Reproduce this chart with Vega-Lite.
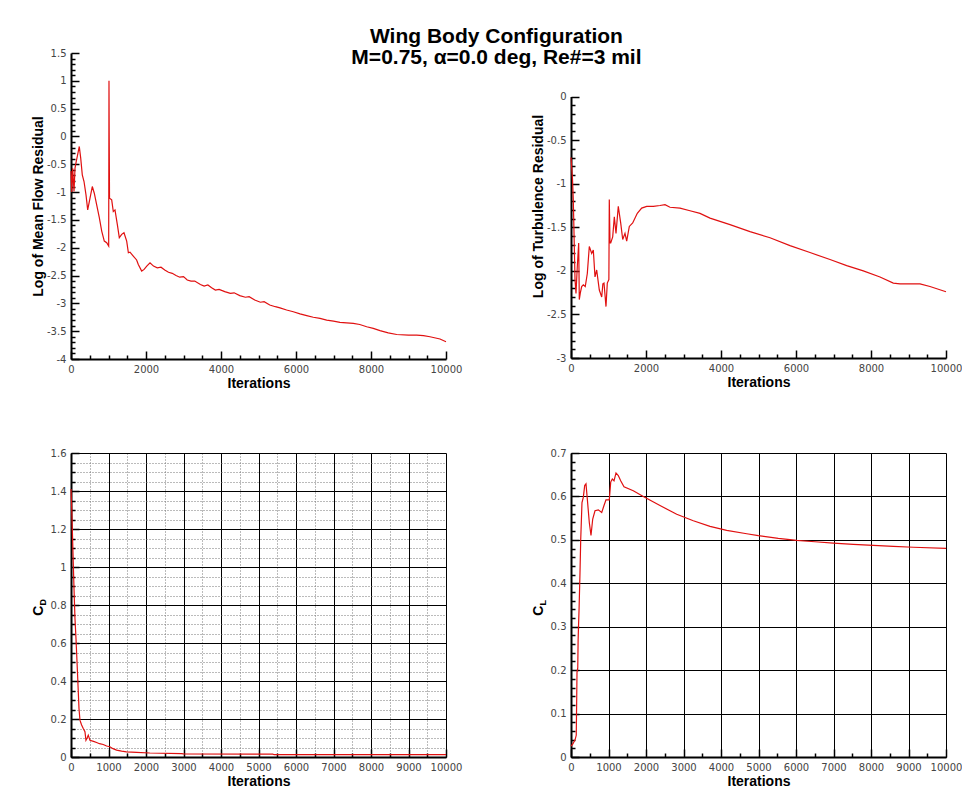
{
  "$schema": "https://vega.github.io/schema/vega-lite/v6.json",
  "background": "white",
  "padding": {"left": 31, "top": 26, "right": 0, "bottom": 0},
  "title": {
    "text": ["Wing Body Configuration", "M=0.75, α=0.0 deg, Re#=3 mil"],
    "font": "Liberation Sans", "fontSize": 21, "fontWeight": "bold", "color": "#000",
    "anchor": "middle", "frame": "bounds", "offset": -20, "lineHeight": 21
  },
  "config": {
    "view": {"stroke": null},
    "axis": {
      "domainColor": "#000", "domainWidth": 2, "tickColor": "#000", "tickWidth": 1.5,
      "labelFont": "DejaVu Sans", "labelFontSize": 10, "labelColor": "#444",
      "titleFont": "Liberation Sans", "titleFontSize": 14, "titleFontWeight": "bold", "titleColor": "#000",
      "grid": false, "labelFlush": false, "labelOverlap": false
    }
  },
  "datasets": {
    "tl": [
      {"it":0,"v":-0.62},{"it":20,"v":-1.0},{"it":45,"v":-0.57},{"it":80,"v":-0.99},{"it":107,"v":-0.57},{"it":140,"v":-0.45},{"it":168,"v":-0.36},{"it":221,"v":-0.18},{"it":259,"v":-0.39},{"it":301,"v":-0.69},{"it":347,"v":-0.81},{"it":400,"v":-1.05},{"it":445,"v":-1.32},{"it":507,"v":-1.11},{"it":568,"v":-0.9},{"it":621,"v":-1.02},{"it":685,"v":-1.23},{"it":755,"v":-1.46},{"it":819,"v":-1.7},{"it":888,"v":-1.88},{"it":952,"v":-1.91},{"it":1005,"v":-1.97},{"it":1013,"v":1.0},{"it":1019,"v":-0.04},{"it":1027,"v":-1.11},{"it":1085,"v":-1.14},{"it":1128,"v":-1.35},{"it":1173,"v":-1.32},{"it":1235,"v":-1.58},{"it":1288,"v":-1.82},{"it":1352,"v":-1.76},{"it":1413,"v":-1.73},{"it":1485,"v":-1.88},{"it":1530,"v":-2.09},{"it":1573,"v":-2.08},{"it":1661,"v":-2.15},{"it":1750,"v":-2.22},{"it":1795,"v":-2.3},{"it":1885,"v":-2.42},{"it":1950,"v":-2.39},{"it":2020,"v":-2.33},{"it":2107,"v":-2.27},{"it":2200,"v":-2.33},{"it":2300,"v":-2.36},{"it":2400,"v":-2.35},{"it":2500,"v":-2.4},{"it":2600,"v":-2.44},{"it":2700,"v":-2.46},{"it":2800,"v":-2.5},{"it":2900,"v":-2.53},{"it":3000,"v":-2.52},{"it":3100,"v":-2.58},{"it":3200,"v":-2.6},{"it":3300,"v":-2.6},{"it":3450,"v":-2.66},{"it":3550,"v":-2.69},{"it":3650,"v":-2.67},{"it":3750,"v":-2.72},{"it":3850,"v":-2.76},{"it":3950,"v":-2.75},{"it":4100,"v":-2.79},{"it":4250,"v":-2.82},{"it":4350,"v":-2.81},{"it":4500,"v":-2.86},{"it":4650,"v":-2.89},{"it":4750,"v":-2.88},{"it":4900,"v":-2.94},{"it":5050,"v":-2.98},{"it":5150,"v":-2.97},{"it":5300,"v":-3.03},{"it":5450,"v":-3.06},{"it":5573,"v":-3.08},{"it":5750,"v":-3.12},{"it":5928,"v":-3.15},{"it":6107,"v":-3.19},{"it":6285,"v":-3.22},{"it":6461,"v":-3.25},{"it":6640,"v":-3.27},{"it":6819,"v":-3.3},{"it":7000,"v":-3.32},{"it":7173,"v":-3.34},{"it":7350,"v":-3.35},{"it":7528,"v":-3.36},{"it":7700,"v":-3.38},{"it":7885,"v":-3.42},{"it":8060,"v":-3.45},{"it":8240,"v":-3.49},{"it":8460,"v":-3.53},{"it":8685,"v":-3.56},{"it":9000,"v":-3.57},{"it":9219,"v":-3.57},{"it":9400,"v":-3.58},{"it":9573,"v":-3.6},{"it":9840,"v":-3.64},{"it":10000,"v":-3.69}
    ],
    "tr": [
      {"it":0,"v":-0.7},{"it":40,"v":-0.95},{"it":61,"v":-1.18},{"it":107,"v":-2.1},{"it":133,"v":-2.26},{"it":168,"v":-1.95},{"it":205,"v":-1.68},{"it":221,"v":-2.33},{"it":250,"v":-2.25},{"it":285,"v":-2.18},{"it":328,"v":-2.16},{"it":380,"v":-2.18},{"it":435,"v":-2.03},{"it":488,"v":-1.72},{"it":552,"v":-1.8},{"it":595,"v":-1.76},{"it":640,"v":-2.07},{"it":685,"v":-1.99},{"it":755,"v":-2.22},{"it":819,"v":-2.3},{"it":850,"v":-2.15},{"it":880,"v":-2.14},{"it":933,"v":-2.41},{"it":968,"v":-2.14},{"it":1010,"v":-2.1},{"it":1021,"v":-1.18},{"it":1040,"v":-1.68},{"it":1059,"v":-1.68},{"it":1112,"v":-1.61},{"it":1155,"v":-1.38},{"it":1200,"v":-1.57},{"it":1261,"v":-1.26},{"it":1325,"v":-1.45},{"it":1379,"v":-1.64},{"it":1440,"v":-1.57},{"it":1485,"v":-1.66},{"it":1555,"v":-1.49},{"it":1645,"v":-1.45},{"it":1768,"v":-1.34},{"it":1885,"v":-1.28},{"it":2019,"v":-1.26},{"it":2195,"v":-1.26},{"it":2373,"v":-1.25},{"it":2507,"v":-1.24},{"it":2640,"v":-1.27},{"it":2907,"v":-1.28},{"it":3173,"v":-1.31},{"it":3440,"v":-1.34},{"it":3707,"v":-1.395},{"it":4240,"v":-1.47},{"it":4773,"v":-1.55},{"it":5307,"v":-1.62},{"it":5840,"v":-1.71},{"it":6373,"v":-1.79},{"it":6907,"v":-1.87},{"it":7352,"v":-1.94},{"it":7795,"v":-2.0},{"it":8240,"v":-2.07},{"it":8595,"v":-2.14},{"it":8773,"v":-2.15},{"it":9307,"v":-2.15},{"it":9573,"v":-2.18},{"it":10000,"v":-2.24}
    ],
    "bl": [
      {"it":0,"v":1.41},{"it":20,"v":1.3},{"it":45,"v":1.13},{"it":80,"v":0.887},{"it":106,"v":0.729},{"it":133,"v":0.624},{"it":168,"v":0.466},{"it":213,"v":0.255},{"it":239,"v":0.194},{"it":280,"v":0.17},{"it":327,"v":0.15},{"it":372,"v":0.133},{"it":399,"v":0.088},{"it":430,"v":0.1},{"it":460,"v":0.115},{"it":505,"v":0.088},{"it":600,"v":0.082},{"it":683,"v":0.076},{"it":760,"v":0.07},{"it":859,"v":0.066},{"it":950,"v":0.058},{"it":1037,"v":0.054},{"it":1120,"v":0.044},{"it":1215,"v":0.036},{"it":1350,"v":0.031},{"it":1481,"v":0.027},{"it":1747,"v":0.024},{"it":2101,"v":0.021},{"it":2944,"v":0.018},{"it":3000,"v":0.016},{"it":5380,"v":0.015},{"it":5420,"v":0.012},{"it":10000,"v":0.012}
    ],
    "br": [
      {"it":0,"v":0.025},{"it":50,"v":0.03},{"it":110,"v":0.04},{"it":140,"v":0.05},{"it":150,"v":0.12},{"it":160,"v":0.195},{"it":180,"v":0.205},{"it":190,"v":0.27},{"it":200,"v":0.3},{"it":215,"v":0.34},{"it":240,"v":0.425},{"it":259,"v":0.5},{"it":293,"v":0.586},{"it":328,"v":0.598},{"it":365,"v":0.625},{"it":400,"v":0.629},{"it":435,"v":0.594},{"it":488,"v":0.54},{"it":533,"v":0.51},{"it":579,"v":0.548},{"it":640,"v":0.567},{"it":728,"v":0.569},{"it":819,"v":0.563},{"it":880,"v":0.579},{"it":933,"v":0.592},{"it":1021,"v":0.592},{"it":1059,"v":0.633},{"it":1101,"v":0.64},{"it":1147,"v":0.636},{"it":1200,"v":0.654},{"it":1261,"v":0.648},{"it":1325,"v":0.636},{"it":1413,"v":0.622},{"it":1661,"v":0.613},{"it":1928,"v":0.6},{"it":2373,"v":0.579},{"it":2819,"v":0.559},{"it":3262,"v":0.544},{"it":3707,"v":0.531},{"it":4152,"v":0.522},{"it":4686,"v":0.514},{"it":4995,"v":0.5096},{"it":5528,"v":0.5035},{"it":6019,"v":0.499},{"it":6507,"v":0.4957},{"it":6995,"v":0.4927},{"it":7528,"v":0.4897},{"it":8062,"v":0.4874},{"it":8595,"v":0.485},{"it":9128,"v":0.483},{"it":10000,"v":0.4805}
    ]
  },
  "spacing": 69,
  "hconcat": [
    {
      "spacing": 58,
      "vconcat": [
        {
          "width": 375, "height": 306,
          "data": {"name": "tl"},
          "resolve": {"axis": {"x": "independent", "y": "independent"}},
          "layer": [
            {
              "mark": {"type": "line", "color": "#e01010", "strokeWidth": 1.2},
              "encoding": {
                "x": {"field": "it", "type": "quantitative", "scale": {"domain": [0, 10000], "nice": false},
                  "axis": {"orient": "bottom", "values": [0, 2000, 4000, 6000, 8000, 10000], "tickSize": -8, "labelPadding": 13, "labelExpr": "'' + datum.value", "title": "Iterations", "minExtent": 16, "maxExtent": 16, "titlePadding": 1}},
                "y": {"field": "v", "type": "quantitative", "scale": {"domain": [-4, 1.5], "nice": false, "zero": false},
                  "axis": {"orient": "left", "values": [-4, -3.5, -3, -2.5, -2, -1.5, -1, -0.5, 0, 0.5, 1, 1.5], "tickSize": -8, "labelPadding": 13, "labelExpr": "'' + datum.value", "title": "Log of Mean Flow Residual", "minExtent": 24, "maxExtent": 24, "titlePadding": 2}}
              }
            },
            {
              "mark": {"type": "point", "opacity": 0},
              "encoding": {
                "x": {"field": "it", "type": "quantitative",
                  "axis": {"orient": "bottom", "values": [500, 1000, 1500, 2500, 3000, 3500, 4500, 5000, 5500, 6500, 7000, 7500, 8500, 9000, 9500], "tickSize": -4, "labels": false, "domain": false, "title": null}},
                "y": {"field": "v", "type": "quantitative",
                  "axis": {"orient": "left", "values": [-3.9, -3.8, -3.7, -3.6, -3.4, -3.3, -3.2, -3.1, -2.9, -2.8, -2.7, -2.6, -2.4, -2.3, -2.2, -2.1, -1.9, -1.8, -1.7, -1.6, -1.4, -1.3, -1.2, -1.1, -0.9, -0.8, -0.7, -0.6, -0.4, -0.3, -0.2, -0.1, 0.1, 0.2, 0.3, 0.4, 0.6, 0.7, 0.8, 0.9, 1.1, 1.2, 1.3, 1.4], "tickSize": -4, "labels": false, "domain": false, "title": null}}
              }
            }
          ]
        },
        {
          "width": 375, "height": 304,
          "data": {"name": "bl"},
          "resolve": {"axis": {"x": "independent", "y": "independent"}},
          "layer": [
            {
              "mark": {"type": "line", "color": "#e01010", "strokeWidth": 1.2},
              "encoding": {
                "x": {"field": "it", "type": "quantitative", "scale": {"domain": [0, 10000], "nice": false},
                  "axis": {"orient": "bottom", "values": [0, 1000, 2000, 3000, 4000, 5000, 6000, 7000, 8000, 9000, 10000], "grid": true, "gridColor": "#000", "gridWidth": 1, "tickSize": -8, "labelPadding": 13, "labelExpr": "'' + datum.value", "title": "Iterations", "minExtent": 16, "maxExtent": 16, "titlePadding": 1}},
                "y": {"field": "v", "type": "quantitative", "scale": {"domain": [0, 1.6], "nice": false},
                  "axis": {"orient": "left", "values": [0, 0.2, 0.4, 0.6, 0.8, 1, 1.2, 1.4, 1.6], "grid": true, "gridColor": "#000", "gridWidth": 1, "tickSize": -8, "labelPadding": 13, "labelExpr": "'' + datum.value", "title": "C", "titleAlign": "right", "minExtent": 24, "maxExtent": 24, "titlePadding": 2}}
              }
            },
            {
              "mark": {"type": "point", "opacity": 0},
              "encoding": {
                "x": {"field": "it", "type": "quantitative",
                  "axis": {"orient": "bottom", "values": [500, 1500, 2500, 3500, 4500, 5500, 6500, 7500, 8500, 9500], "grid": true, "gridColor": "#777", "gridDash": [1, 2], "gridWidth": 1, "tickSize": -4, "labels": false, "domain": false, "title": null}},
                "y": {"field": "v", "type": "quantitative",
                  "axis": {"orient": "left", "values": [0.05, 0.1, 0.15, 0.25, 0.3, 0.35, 0.45, 0.5, 0.55, 0.65, 0.7, 0.75, 0.85, 0.9, 0.95, 1.05, 1.1, 1.15, 1.25, 1.3, 1.35, 1.45, 1.5, 1.55], "grid": true, "gridColor": "#777", "gridDash": [1, 2], "gridWidth": 1, "tickSize": -4, "labels": false, "domain": false, "title": "D", "titleFontSize": 9, "titleAlign": "left", "minExtent": 24, "maxExtent": 24, "titlePadding": 0}}
              }
            }
          ]
        }
      ]
    },
    {
      "spacing": 59,
      "vconcat": [
        {
          "width": 375, "height": 305,
          "data": {"name": "tr"},
          "resolve": {"axis": {"x": "independent", "y": "independent"}},
          "layer": [
            {
              "mark": {"type": "line", "color": "#e01010", "strokeWidth": 1.2},
              "encoding": {
                "x": {"field": "it", "type": "quantitative", "scale": {"domain": [0, 10000], "nice": false},
                  "axis": {"orient": "bottom", "values": [0, 2000, 4000, 6000, 8000, 10000], "tickSize": -8, "labelPadding": 13, "labelExpr": "'' + datum.value", "title": "Iterations", "minExtent": 16, "maxExtent": 16, "titlePadding": 1}},
                "y": {"field": "v", "type": "quantitative", "scale": {"domain": [-3, 0.5], "nice": false, "zero": false},
                  "axis": {"orient": "left", "values": [-3, -2.5, -2, -1.5, -1, -0.5, 0], "domainDash": [261.5, 200], "tickSize": -8, "labelPadding": 13, "labelExpr": "'' + datum.value", "title": "Log of Turbulence Residual", "titleY": 153, "minExtent": 24, "maxExtent": 24, "titlePadding": 2}}
              }
            },
            {
              "mark": {"type": "point", "opacity": 0},
              "encoding": {
                "x": {"field": "it", "type": "quantitative",
                  "axis": {"orient": "bottom", "values": [500, 1000, 1500, 2500, 3000, 3500, 4500, 5000, 5500, 6500, 7000, 7500, 8500, 9000, 9500], "tickSize": -4, "labels": false, "domain": false, "title": null}},
                "y": {"field": "v", "type": "quantitative",
                  "axis": {"orient": "left", "values": [-2.9, -2.8, -2.7, -2.6, -2.4, -2.3, -2.2, -2.1, -1.9, -1.8, -1.7, -1.6, -1.4, -1.3, -1.2, -1.1, -0.9, -0.8, -0.7, -0.6, -0.4, -0.3, -0.2, -0.1], "tickSize": -4, "labels": false, "domain": false, "title": null}}
              }
            }
          ]
        },
        {
          "width": 375, "height": 304,
          "data": {"name": "br"},
          "resolve": {"axis": {"x": "independent", "y": "independent"}},
          "layer": [
            {
              "mark": {"type": "line", "color": "#e01010", "strokeWidth": 1.2},
              "encoding": {
                "x": {"field": "it", "type": "quantitative", "scale": {"domain": [0, 10000], "nice": false},
                  "axis": {"orient": "bottom", "values": [0, 1000, 2000, 3000, 4000, 5000, 6000, 7000, 8000, 9000, 10000], "grid": true, "gridColor": "#000", "gridWidth": 1, "tickSize": -8, "labelPadding": 13, "labelExpr": "'' + datum.value", "title": "Iterations", "minExtent": 16, "maxExtent": 16, "titlePadding": 1}},
                "y": {"field": "v", "type": "quantitative", "scale": {"domain": [0, 0.7], "nice": false},
                  "axis": {"orient": "left", "values": [0, 0.1, 0.2, 0.3, 0.4, 0.5, 0.6, 0.7], "grid": true, "gridColor": "#000", "gridWidth": 1, "tickSize": -8, "labelPadding": 13, "labelExpr": "'' + datum.value", "title": "C", "titleAlign": "right", "minExtent": 24, "maxExtent": 24, "titlePadding": 2}}
              }
            },
            {
              "mark": {"type": "point", "opacity": 0},
              "encoding": {
                "x": {"field": "it", "type": "quantitative",
                  "axis": {"orient": "bottom", "values": [500, 1500, 2500, 3500, 4500, 5500, 6500, 7500, 8500, 9500], "tickSize": -4, "labels": false, "domain": false, "title": null}},
                "y": {"field": "v", "type": "quantitative",
                  "axis": {"orient": "left", "values": [0.02, 0.04, 0.06, 0.08, 0.12, 0.14, 0.16, 0.18, 0.22, 0.24, 0.26, 0.28, 0.32, 0.34, 0.36, 0.38, 0.42, 0.44, 0.46, 0.48, 0.52, 0.54, 0.56, 0.58, 0.62, 0.64, 0.66, 0.68], "tickSize": -4, "labels": false, "domain": false, "title": "L", "titleFontSize": 9, "titleAlign": "left", "minExtent": 24, "maxExtent": 24, "titlePadding": 0}}
              }
            }
          ]
        }
      ]
    }
  ]
}
